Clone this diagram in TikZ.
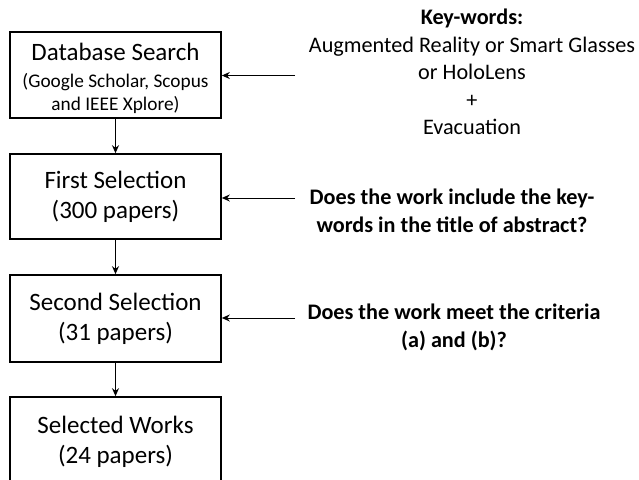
\documentclass[tikz,border=0pt]{standalone}
\usepackage{fontspec}
\setmainfont{Carlito}
\usetikzlibrary{arrows.meta}
\begin{document}
\begin{tikzpicture}[x=1pt,y=-1pt,
  stagebox/.style={draw=black,line width=1.6pt,minimum width=211pt,align=center,inner sep=0pt,font=\fontsize{25}{30}\selectfont},
  sidetext/.style={align=center,font=\fontsize{22.2}{27.5}\selectfont},
  link/.style={line width=1pt,-{Stealth[length=8pt,width=7pt]}},
  flow/.style={line width=1.5pt,-{Stealth[length=8pt,width=7pt]}}]
\useasboundingbox (0,0) rectangle (639,479);
\clip (0,0) rectangle (639,479);
\node[stagebox,minimum height=86pt] (b1) at (115.5,75) {};
\node[align=center,inner sep=0pt,font=\fontsize{25}{30}\selectfont] (b1t) at (115.5,78) {Database Search\\[-3pt]{\fontsize{19.3}{24}\selectfont (Google Scholar, Scopus}\\[-7pt]{\fontsize{19.3}{24}\selectfont and IEEE Xplore)}};
\node[stagebox,minimum height=85pt] (b2) at (115.5,196.5) {First Selection\\(300 papers)};
\node[stagebox,minimum height=87pt] (b3) at (115.5,318.5) {Second Selection\\(31 papers)};
\node[stagebox,minimum height=90pt] (b4) at (115.5,442) {Selected Works\\(24 papers)};
\node[sidetext] (t1) at (472,72) {\textbf{Key-words:}\\Augmented Reality or Smart Glasses\\or HoloLens\\+\\Evacuation};
\node[sidetext] (t2) at (452,211) {\textbf{Does the work include the key-}\\\textbf{words in the title of abstract?}};
\node[sidetext] (t3) at (454,327.5) {\textbf{Does the work meet the criteria}\\\textbf{(a) and (b)?}};
\coordinate (a1) at (295,75.5);
\coordinate (a2) at (295,198);
\coordinate (a3) at (295,318);
\draw[link] (a1) -- (a1 -| b1.east);
\draw[link] (a2) -- (a2 -| b2.east);
\draw[link] (a3) -- (a3 -| b3.east);
\draw[flow] (b1) -- (b2);
\draw[flow] (b2) -- (b3);
\draw[flow] (b3) -- (b4);
\end{tikzpicture}
\end{document}
